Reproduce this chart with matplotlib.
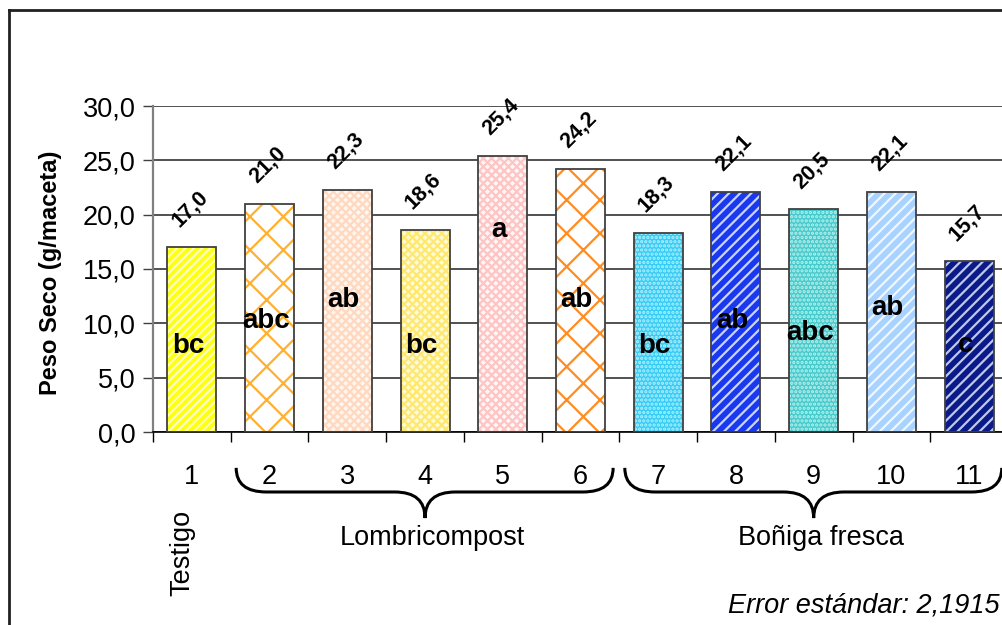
import matplotlib
matplotlib.use("Agg")
import matplotlib.pyplot as plt
from matplotlib.path import Path
from matplotlib.patches import PathPatch
from matplotlib.lines import Line2D
import matplotlib.transforms as mtransforms

plt.rcParams['font.family'] = ['Liberation Sans', 'DejaVu Sans']
plt.rcParams['hatch.linewidth'] = 1.6

# ---- data ----
categories = [1, 2, 3, 4, 5, 6, 7, 8, 9, 10, 11]
tick_labels = ['1', '2', '3', '4', '5', '6', '7', '8', '9', '10', '11']
values = [17.0, 21.0, 22.3, 18.6, 25.4, 24.2, 18.3, 22.1, 20.5, 22.1, 15.7]
letters = ['bc', 'abc', 'ab', 'bc', 'a', 'ab', 'bc', 'ab', 'abc', 'ab', 'c']
letter_y = [7.3, 9.6, 11.5, 7.3, 17.9, 11.5, 7.3, 9.6, 8.5, 10.8, 7.4]
yticks = [0, 5, 10, 15, 20, 25, 30]
ylabel = 'Peso Seco (g/maceta)'
groups = [('Lombricompost', 2, 6), ('Boñiga fresca', 7, 11)]
control_label = 'Testigo'
note = 'Error estándar: 2,1915'

# ---- styles (face colour, hatch colour, hatch) ----
styles = [
    ('#FFFF10', '#FFFFC0', '////'),
    ('#FFFFFF', '#FFB030', 'x'),
    ('#FFF6EF', '#FFD8C0', 'xxxx'),
    ('#FFFBD8', '#FFE870', 'xxxx'),
    ('#FFF6F6', '#FFC4C4', 'xxxx'),
    ('#FFFFFF', '#FF8C20', 'x'),
    ('#38CCF4', '#B0F0FF', '....'),
    ('#1A38EE', '#C8D4FF', '///'),
    ('#48CACA', '#B8F0F0', '....'),
    ('#A8D2FF', '#F0F8FF', '///'),
    ('#0A1A88', '#C0C8E8', '///'),
]

fig = plt.figure(figsize=(10.03, 6.25), dpi=100)
ax = fig.add_axes([153/1003, 1-432/625, 855/1003, 326/625])

bar_w = 0.63
for x, v, (fc, hc, h) in zip(categories, values, styles):
    ax.bar(x, v, width=bar_w, color=fc, edgecolor=hc, hatch=h, linewidth=0, zorder=2)
    ax.bar(x, v, width=bar_w, fill=False, edgecolor='#404040', linewidth=1.3, zorder=3)

for x, v in zip(categories, values):
    ax.annotate(f"{v:.1f}".replace('.', ','), xy=(x, v), xytext=(-1.5, 28),
                textcoords='offset points', ha='center', va='center', rotation=45,
                fontsize=15.5, fontweight='bold', zorder=5, annotation_clip=False)

for x, lab, ly in zip(categories, letters, letter_y):
    ax.text(x - 0.05, ly, lab, ha='center', va='baseline', fontsize=20,
            fontweight='bold', zorder=5)

ax.set_xlim(0.5, 11.5)
ax.set_ylim(0, 30)
ax.set_yticks(yticks)
ax.set_yticklabels([f"{t:.1f}".replace('.', ',') for t in yticks], fontsize=19.5)
ax.tick_params(axis='y', length=7.5, width=1, color='#404040', pad=5)

ax.set_xticks([c + 0.5 for c in [0] + categories])
ax.set_xticklabels([])
ax.set_xticks(categories, minor=True)
ax.set_xticklabels(tick_labels, minor=True, fontsize=19.5)
ax.tick_params(axis='x', which='major', length=7, width=1, color='black', direction='out')
ax.tick_params(axis='x', which='minor', length=0, pad=23)

ax.yaxis.grid(True, color='#222222', linewidth=1.1, zorder=0)
ax.set_axisbelow(True)
for s in ['top', 'right']:
    ax.spines[s].set_visible(False)
ax.spines['left'].set_color('#808080')
ax.spines['left'].set_linewidth(1.6)
ax.spines['bottom'].set_color('black')
ax.spines['bottom'].set_linewidth(1.2)

# braces for groups
trans = mtransforms.blended_transform_factory(ax.transData, ax.transAxes)
yt, yb, ytip = -0.110, -0.184, -0.264
r = 0.39
for name, g0, g1 in groups:
    x0 = g0 - 0.43
    x1 = g1 + 0.42
    xm = (g0 + g1) / 2.0
    verts = [(x0, yt), (x0, yb), (x0 + r, yb), (xm - r, yb), (xm, yb), (xm, ytip),
             (xm, yb), (xm + r, yb), (x1 - r, yb), (x1, yb), (x1, yt)]
    codes = [Path.MOVETO, Path.CURVE3, Path.CURVE3, Path.LINETO, Path.CURVE3, Path.CURVE3,
             Path.CURVE3, Path.CURVE3, Path.LINETO, Path.CURVE3, Path.CURVE3]
    ax.add_patch(PathPatch(Path(verts, codes), transform=trans, fill=False,
                           edgecolor='black', linewidth=2.2, clip_on=False))
    ax.text(xm + 0.1, -0.325, name, transform=trans, ha='center', va='center',
            fontsize=19.5)

ax.text(categories[0] - 0.12, -0.37, control_label, transform=trans, rotation=90,
        ha='center', va='center', fontsize=19.5)

fig.text(51/1003, 1-273/625, ylabel, rotation=90, ha='center', va='center',
         fontsize=17, fontweight='bold')
fig.text(0.997, 1-605/625, note, ha='right', va='center', fontsize=19.5, style='italic')

# chart frame (left and top edges visible)
fig.add_artist(Line2D([9/1003, 9/1003], [0, 1-10/625], transform=fig.transFigure,
                      color='#202020', linewidth=2))
fig.add_artist(Line2D([9/1003, 1.0], [1-10/625, 1-10/625], transform=fig.transFigure,
                      color='#202020', linewidth=2))

fig.savefig('out.png', dpi=100, facecolor='white')
